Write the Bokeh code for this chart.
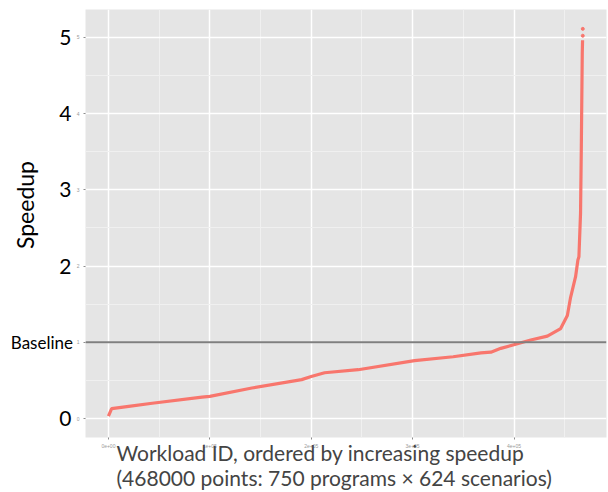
import math
from bokeh.plotting import figure
from bokeh.layouts import row
from bokeh.models import Range1d, FixedTicker, Span, Title
from bokeh.core.properties import value
from bokeh.embed import file_html
from bokeh.resources import INLINE

workload_idx = [0, 3200, 20000, 43200, 92300, 100000, 141500, 190600, 200000,
                213200, 246300, 301900, 340000, 367400, 377200, 387000, 403400,
                416500, 432900, 446000, 452600, 455800, 460700, 463000, 464000,
                465600, 466300, 467300, 467600]
speedup = [0.03, 0.13, 0.16, 0.20, 0.28, 0.29, 0.40, 0.51, 0.55,
           0.60, 0.64, 0.76, 0.81, 0.86, 0.87, 0.92, 0.98,
           1.03, 1.08, 1.18, 1.35, 1.59, 1.86, 2.08, 2.12,
           2.69, 3.48, 4.79, 4.96]
outlier_idx = [467800, 467800]
outlier_speedup = [5.02, 5.11]

x_ticks = [0, 100000, 200000, 300000, 400000]
x_tick_labels = ["0e+00", "1e+05", "2e+05", "3e+05", "4e+05"]
y_ticks = [0, 1, 2, 3, 4, 5]
big_digit_ticks = [0, 2, 3, 4, 5]
big_digit_labels = ["0", "2", "3", "4", "5"]
baseline_label = "Baseline"
x_title_lines = ["Workload ID, ordered by increasing speedup",
                 "(468000 points: 750 programs \u00d7 624 scenarios)"]
y_title = "Speedup"
y_title_pos = 2.80
baseline_value = 1

FONT = "Lato"
yr = Range1d(-0.249, 5.364)

# ---- main plot ----
p = figure(width=535, height=492, output_backend="svg", toolbar_location=None,
           x_range=Range1d(-22600, 491200), y_range=yr,
           min_border_left=10, min_border_right=2, min_border_top=9,
           min_border_bottom=55)
p.background_fill_color = "#E5E5E5"
p.border_fill_color = "white"
p.outline_line_color = None

xt = FixedTicker(ticks=x_ticks, minor_ticks=[50000, 150000, 250000, 350000, 450000])
yt = FixedTicker(ticks=y_ticks, minor_ticks=[0.5, 1.5, 2.5, 3.5, 4.5])
p.xaxis.ticker = xt
p.yaxis.ticker = yt
p.xaxis.major_label_overrides = {t: l for t, l in zip(x_ticks, x_tick_labels)}
for ax in (p.xaxis, p.yaxis):
    ax.axis_line_color = None
    ax.major_tick_line_color = "#8C8C8C"
    ax.major_tick_out = 2
    ax.major_tick_in = 0
    ax.minor_tick_line_color = None
    ax.major_label_text_font_size = "5px"
    ax.major_label_text_color = "#9A9A9A"
    ax.major_label_standoff = 2
p.xgrid.ticker = xt
p.ygrid.ticker = yt
for g in (p.xgrid, p.ygrid):
    g.grid_line_color = "white"
    g.grid_line_width = 1.5
    g.minor_grid_line_color = "#F0F0F0"
    g.minor_grid_line_width = 1

p.line(workload_idx, speedup, line_color="#F8766D", line_width=3.2)
p.scatter(outlier_idx, outlier_speedup, size=3, color="#F8766D")

p.add_layout(Span(location=baseline_value, dimension="width",
                  line_color="#7F7F7F", line_width=2))

# pad the shorter first line with no-break spaces so both lines start at the left
title_text = x_title_lines[0] + "\u00a0" * 7 + "\n" + x_title_lines[1]
p.add_layout(Title(text=title_text, align="left", offset=31,
                   standoff=-26, text_font=FONT, text_font_size="21px",
                   text_font_style="normal", text_line_height=1.0), "below")

# ---- left label panel (shares the y scale) ----
lp = figure(width=73, height=492, output_backend="svg", toolbar_location=None,
            x_range=Range1d(0, 73), y_range=yr, x_axis_type=None, y_axis_type=None,
            min_border_left=0, min_border_right=0, min_border_top=9,
            min_border_bottom=55)
lp.outline_line_color = None
lp.grid.visible = False
lp.background_fill_color = "white"
lp.border_fill_color = "white"

lp.text(x=[71] * len(big_digit_ticks), y=big_digit_ticks, text=big_digit_labels,
        text_align="right", text_baseline="middle", text_font=value(FONT),
        text_font_size="21px", text_color="black")
lp.text(x=[72.5], y=[baseline_value], text=[baseline_label],
        text_align="right", text_baseline="middle", text_font=value(FONT),
        text_font_size="17px", text_color="black")
lp.text(x=[24], y=[y_title_pos], text=[y_title], angle=math.pi / 2,
        text_align="center", text_baseline="middle", text_font=value(FONT),
        text_font_size="23px", text_color="black")

layout = row(lp, p, spacing=0)
open("out.html", "w").write(file_html(layout, INLINE))
